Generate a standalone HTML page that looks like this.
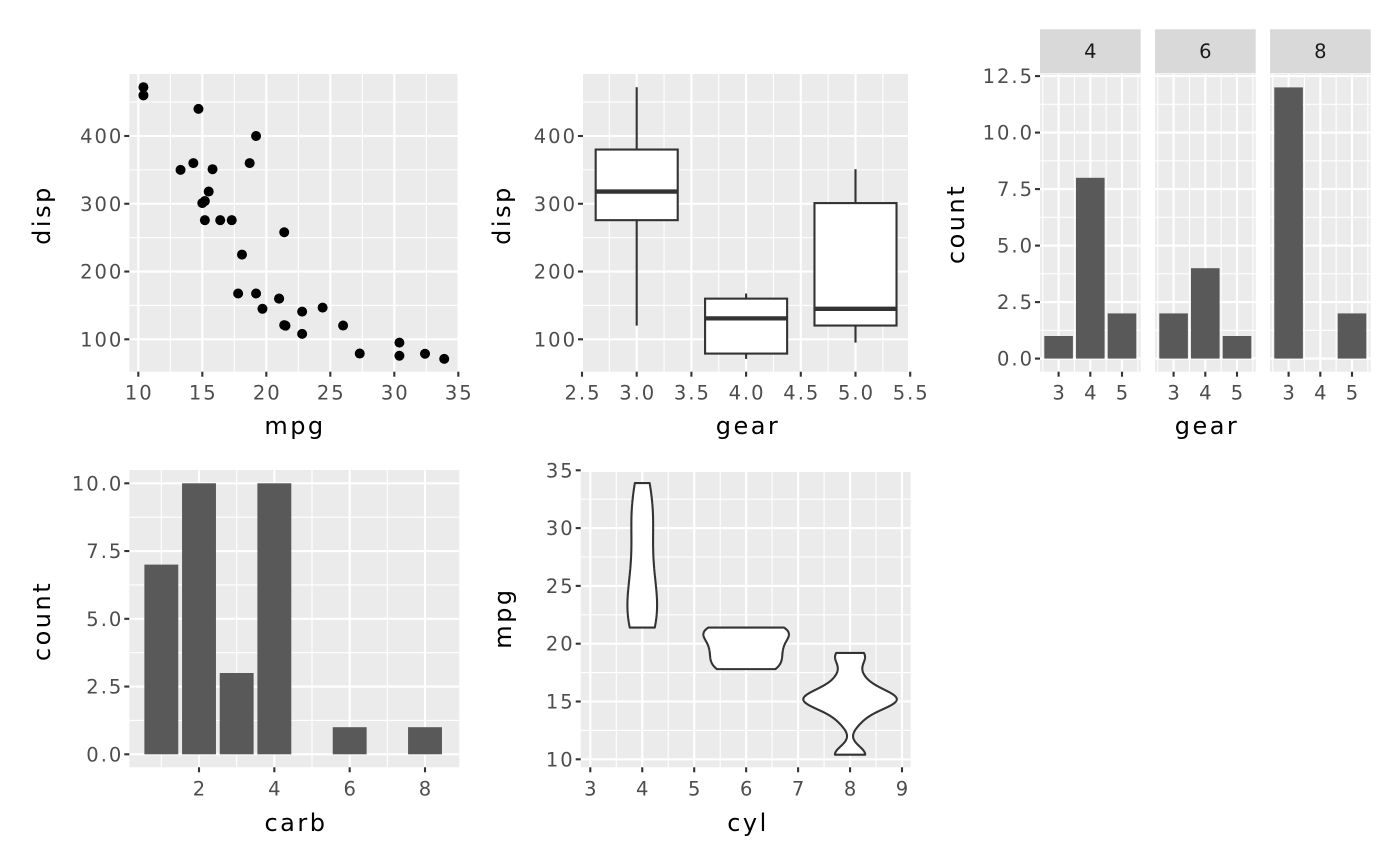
<!DOCTYPE html>
<html><head><meta charset="utf-8"><style>
html,body{margin:0;padding:0;background:#fff}
svg{display:block;font-family:"DejaVu Sans","Liberation Sans",sans-serif}
.tl{fill:#4D4D4D;font-size:19.5px;letter-spacing:2px}
.st{fill:#1A1A1A;font-size:19.5px}
.tt{fill:#000;font-size:24px;letter-spacing:2.5px}
</style></head><body>
<svg id="s" width="1400" height="866" xmlns="http://www.w3.org/2000/svg"></svg>
<script>
var S=document.getElementById('s');var out='';
function R(x,y,w,h,f,extra){out+='<rect x="'+x+'" y="'+y+'" width="'+w+'" height="'+h+'" fill="'+f+'" '+(extra||'')+'/>';}
function L(x1,y1,x2,y2,c,w){out+='<line x1="'+x1+'" y1="'+y1+'" x2="'+x2+'" y2="'+y2+'" stroke="'+c+'" stroke-width="'+w+'"/>';}
function T(x,y,t,cls,anchor,rot){out+='<text x="'+x+'" y="'+y+'" class="'+cls+'" text-anchor="'+(anchor||'middle')+'"'+(rot?' transform="rotate(-90 '+x+' '+y+')"':'')+'>'+t+'</text>';}
function panel(o){
 R(o.x0,o.y0,o.x1-o.x0,o.y1-o.y0,'#EBEBEB');
 o.xmin.forEach(function(v){var x=o.fx(v);if(x>=o.x0&&x<=o.x1)L(x,o.y0,x,o.y1,'#fff',1.1);});
 o.ymin.forEach(function(v){var y=o.fy(v);if(y>=o.y0&&y<=o.y1)L(o.x0,y,o.x1,y,'#fff',1.1);});
 o.xmaj.forEach(function(v){var x=o.fx(v);if(x>=o.x0-0.5&&x<=o.x1+0.5)L(x,o.y0,x,o.y1,'#fff',2.1);});
 o.ymaj.forEach(function(v){var y=o.fy(v);if(y>=o.y0&&y<=o.y1)L(o.x0,y,o.x1,y,'#fff',2.1);});
}
function xaxis(o,labs){
 o.xmaj.forEach(function(v,i){var x=o.fx(v);L(x,o.y1,x,o.y1+5,'#333',2.1);T(x+1,o.y1+28,labs[i],'tl');});
}
function yaxis(o,labs){
 o.ymaj.forEach(function(v,i){var y=o.fy(v);L(o.x0-5,y,o.x0,y,'#333',2.1);T(o.x0-6,y+7,labs[i],'tl','end');});
}
var d=[[21,6,160,4,4],[21,6,160,4,4],[22.8,4,108,4,1],[21.4,6,258,3,1],[18.7,8,360,3,2],[18.1,6,225,3,1],[14.3,8,360,3,4],[24.4,4,146.7,4,2],[22.8,4,140.8,4,2],[19.2,6,167.6,4,4],[17.8,6,167.6,4,4],[16.4,8,275.8,3,3],[17.3,8,275.8,3,3],[15.2,8,275.8,3,3],[10.4,8,472,3,4],[10.4,8,460,3,4],[14.7,8,440,3,4],[32.4,4,78.7,4,1],[30.4,4,75.7,4,2],[33.9,4,71.1,4,1],[21.5,4,120.1,3,1],[15.5,8,318,3,2],[15.2,8,304,3,2],[13.3,8,350,3,4],[19.2,8,400,3,2],[27.3,4,79,4,1],[26,4,120.3,5,2],[30.4,4,95.1,5,2],[15.8,8,351,5,4],[19.7,6,145,5,6],[15,8,301,5,8],[21.4,4,121,4,2]];
var dispY=function(v){return 339.3-(v-100)*0.6777;};
var p1={x0:129.3,x1:457.5,y0:74,y1:371.7,fx:function(v){return 138.3+(v-10)*12.8;},fy:dispY,
 xmaj:[10,15,20,25,30,35],xmin:[12.5,17.5,22.5,27.5,32.5],ymaj:[100,200,300,400],ymin:[150,250,350,450]};
panel(p1);
d.forEach(function(r){out+='<circle cx="'+p1.fx(r[0])+'" cy="'+p1.fy(r[2])+'" r="5" fill="#000"/>';});
xaxis(p1,['10','15','20','25','30','35']);yaxis(p1,['100','200','300','400']);
T(295,434,'mpg','tt');T(50,215,'disp','tt','middle',true);
var p2={x0:583,x1:908,y0:74,y1:371.7,fx:function(v){return 636.7+(v-3)*109.4;},fy:dispY,
 xmaj:[2.5,3,3.5,4,4.5,5,5.5],xmin:[2.75,3.25,3.75,4.25,4.75,5.25],ymaj:[100,200,300,400],ymin:[150,250,350,450]};
panel(p2);
[[3,120.1,275.8,318,380,472],[4,71.1,78.925,130.9,160,167.6],[5,95.1,120.3,145,301,351]].forEach(function(b){
 var cx=p2.fx(b[0]),hw=0.375*109.4;
 L(cx,dispY(b[1]),cx,dispY(b[2]),'#333',2.1);L(cx,dispY(b[4]),cx,dispY(b[5]),'#333',2.1);
 R(cx-hw,dispY(b[4]),2*hw,dispY(b[2])-dispY(b[4]),'#fff','stroke="#333" stroke-width="2.1"');
 L(cx-hw,dispY(b[3]),cx+hw,dispY(b[3]),'#333',4.3);
});
xaxis(p2,['2.5','3.0','3.5','4.0','4.5','5.0','5.5']);yaxis(p2,['100','200','300','400']);
T(748,434,'gear','tt');T(510,215,'disp','tt','middle',true);
var cyY=function(v){return 358.6-v*22.6;};
var facets=[[1040,'4',[1,8,2]],[1155,'6',[2,4,1]],[1270,'8',[12,0,2]]];
facets.forEach(function(f,fi){
 var x0=f[0],c=x0+50.3;
 var o={x0:x0,x1:x0+100.7,y0:74,y1:371.7,fx:function(v){return c+(v-4)*31.7;},fy:cyY,
  xmaj:[3,4,5],xmin:[2.5,3.5,4.5,5.5],ymaj:[0,2.5,5,7.5,10,12.5],ymin:[1.25,3.75,6.25,8.75,11.25,13.75]};
 panel(o);
 R(x0,29.3,100.7,44,'#D9D9D9');T(c,58,f[1],'st','middle');
 f[2].forEach(function(n,i){if(n>0){var x=o.fx(3+i);R(x-14.3,cyY(n),28.6,cyY(0)-cyY(n),'#595959');}});
 xaxis(o,['3','4','5']);
 if(fi==0)yaxis(o,['0.0','2.5','5.0','7.5','10.0','12.5']);
});
T(1207,434,'gear','tt');T(964,224,'count','tt','middle',true);
var p4={x0:129.3,x1:459.3,y0:470,y1:767.3,fx:function(v){return 199+(v-2)*37.67;},fy:function(v){return 754.3-v*27.1;},
 xmaj:[2,4,6,8],xmin:[1,3,5,7],ymaj:[0,2.5,5,7.5,10],ymin:[1.25,3.75,6.25,8.75]};
panel(p4);
[[1,7],[2,10],[3,3],[4,10],[6,1],[8,1]].forEach(function(b){var x=p4.fx(b[0]);R(x-16.95,p4.fy(b[1]),33.9,p4.fy(0)-p4.fy(b[1]),'#595959');});
xaxis(p4,['2','4','6','8']);yaxis(p4,['0.0','2.5','5.0','7.5','10.0']);
T(296,831,'carb','tt');T(50,621,'count','tt','middle',true);
var p5={x0:580.7,x1:910.7,y0:472,y1:767.3,fx:function(v){return 590.3+(v-3)*51.95;},fy:function(v){return 759.3-(v-10)*11.56;},
 xmaj:[3,4,5,6,7,8,9],xmin:[3.5,4.5,5.5,6.5,7.5,8.5],ymaj:[10,15,20,25,30,35],ymin:[12.5,17.5,22.5,27.5,32.5]};
panel(p5);
function quant(a,p){var s=a.slice().sort(function(x,y){return x-y});var h=(s.length-1)*p,lo=Math.floor(h);return s[lo]+(h-lo)*((s[lo+1]===undefined?s[lo]:s[lo+1])-s[lo]);}
var groups=[4,6,8].map(function(cy){
 var v=d.filter(function(r){return r[1]==cy}).map(function(r){return r[0]});
 var n=v.length,m=v.reduce(function(a,b){return a+b})/n;
 var sd=Math.sqrt(v.reduce(function(a,b){return a+(b-m)*(b-m)},0)/(n-1));
 var iqr=quant(v,0.75)-quant(v,0.25);
 var bw=0.9*Math.min(sd,iqr/1.34)*Math.pow(n,-0.2);
 var mn=Math.min.apply(null,v),mx=Math.max.apply(null,v);
 var pts=[];for(var i=0;i<512;i++){var y=mn+(mx-mn)*i/511;var s=0;v.forEach(function(xi){var z=(y-xi)/bw;s+=Math.exp(-z*z/2)});pts.push([y,s/(n*bw*Math.sqrt(2*Math.PI))]);}
 return {cy:cy,pts:pts};
});
var gmax=0;groups.forEach(function(g){g.pts.forEach(function(p){if(p[1]>gmax)gmax=p[1];});});
groups.forEach(function(g){
 var cx=p5.fx(g.cy),path='';
 g.pts.forEach(function(p,i){var w=p[1]/gmax*0.9*51.95*2;path+=(i?'L':'M')+(cx-w/2).toFixed(2)+','+p5.fy(p[0]).toFixed(2);});
 for(var i=g.pts.length-1;i>=0;i--){var p=g.pts[i];var w=p[1]/gmax*0.9*51.95*2;path+='L'+(cx+w/2).toFixed(2)+','+p5.fy(p[0]).toFixed(2);}
 out+='<path d="'+path+'Z" fill="#fff" stroke="#333" stroke-width="2.1" stroke-linejoin="round"/>';
});
xaxis(p5,['3','4','5','6','7','8','9']);yaxis(p5,['10','15','20','25','30','35']);
T(748,831,'cyl','tt');T(511,618,'mpg','tt','middle',true);
S.innerHTML=out;
</script>
</body></html>
